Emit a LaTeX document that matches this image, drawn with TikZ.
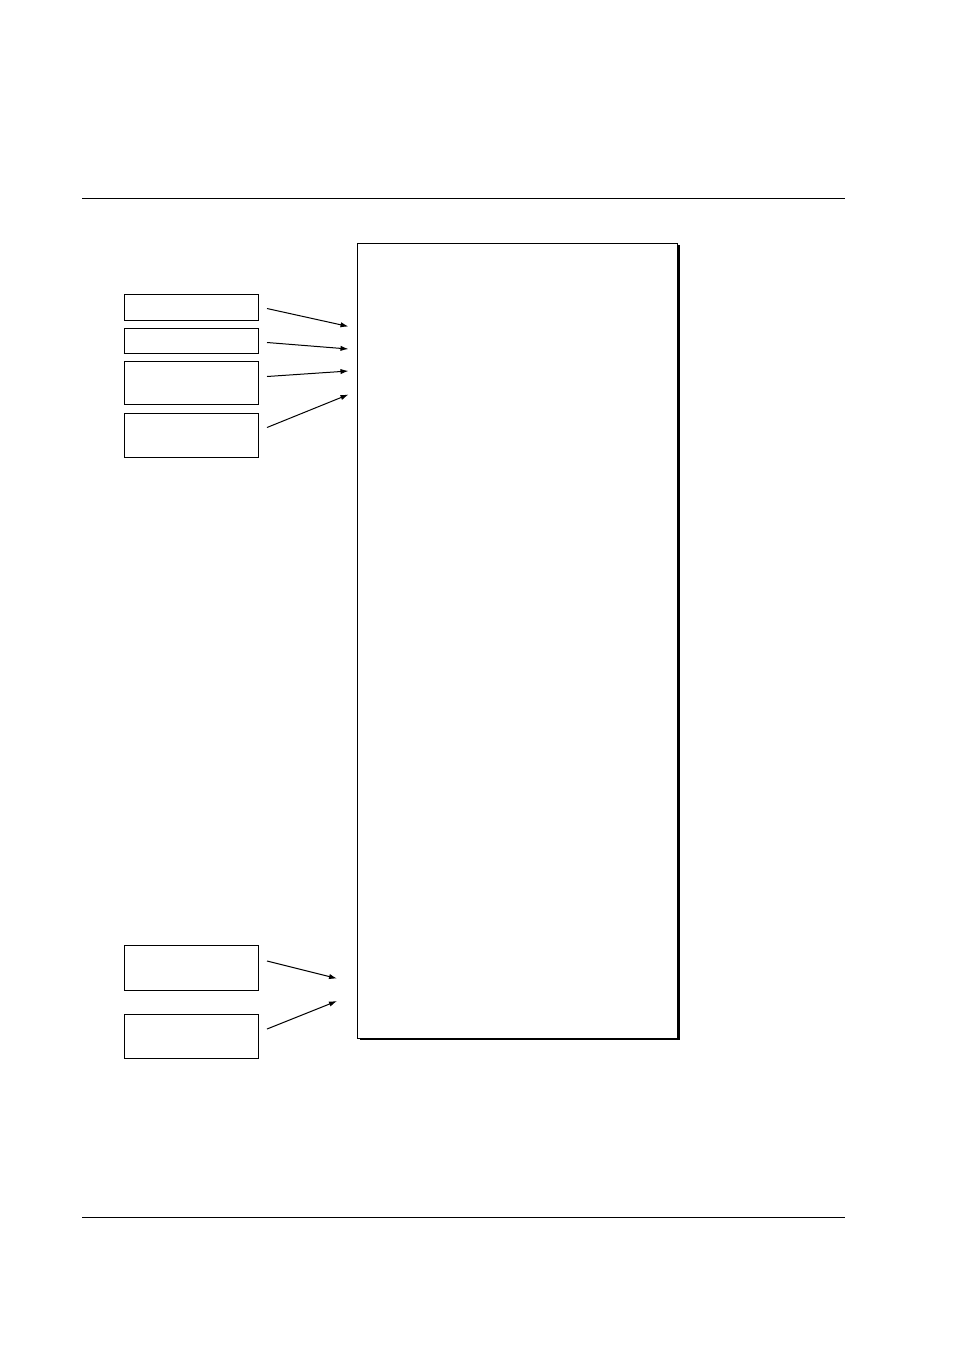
\documentclass[tikz,border=0pt]{standalone}
\usetikzlibrary{arrows.meta,shadows}
\begin{document}
\begin{tikzpicture}[x=0.75pt,y=-0.75pt,
  box/.style={draw,line width=0.75pt,minimum width=100.5pt,inner sep=0pt,anchor=north west},
  bigbox/.style={draw,line width=0.75pt,fill=white,inner sep=0pt,anchor=north west,minimum width=240pt,minimum height=596.25pt,
     drop shadow={shadow xshift=1.5pt,shadow yshift=-1.5pt,opacity=1,fill=black}},
  arr/.style={line width=0.75pt,-{Latex[length=6pt,width=4pt]}},
  rule/.style={line width=0.75pt}]
\useasboundingbox (0,0) rectangle (954,1350);
\coordinate (t1) at (82,198.5);
\coordinate (t2) at (845,198.5);
\coordinate (u1) at (82,1217.5);
\coordinate (u2) at (845,1217.5);
\draw[rule] (t1) -- (t2);
\draw[rule] (u1) -- (u2);
\node[bigbox] (main) at (357,242.5) {};
\node[box,minimum height=20pt] (b1) at (123.5,293.5) {};
\node[box,minimum height=19pt] (b2) at (123.5,327.5) {};
\draw[line width=0.75pt] (b2.south west) -- (b2.south east);
\node[box,minimum height=32.5pt] (b3) at (123.5,360.5) {};
\node[box,minimum height=33pt] (b4) at (123.5,412.5) {};
\node[box,minimum height=33.5pt] (b5) at (123.5,945) {};
\node[box,minimum height=33pt] (b6) at (123.5,1013.5) {};
\coordinate (e1) at (348.5,326.5);
\coordinate (e2) at (348.5,349);
\coordinate (e3) at (348.5,371);
\coordinate (e4) at (348.5,394.5);
\coordinate (e5) at (337,978.5);
\coordinate (e6) at (337,1001);
\coordinate (s1) at (267,308.5);
\coordinate (s2) at (267,342.5);
\coordinate (s3) at (267,376.5);
\coordinate (s4) at (267,427.5);
\coordinate (s5) at (267,961);
\coordinate (s6) at (267,1029);
\draw[arr] (s1) -- (e1);
\draw[arr] (s2) -- (e2);
\draw[arr] (s3) -- (e3);
\draw[arr] (s4) -- (e4);
\draw[arr] (s5) -- (e5);
\draw[arr] (s6) -- (e6);
\end{tikzpicture}
\end{document}
